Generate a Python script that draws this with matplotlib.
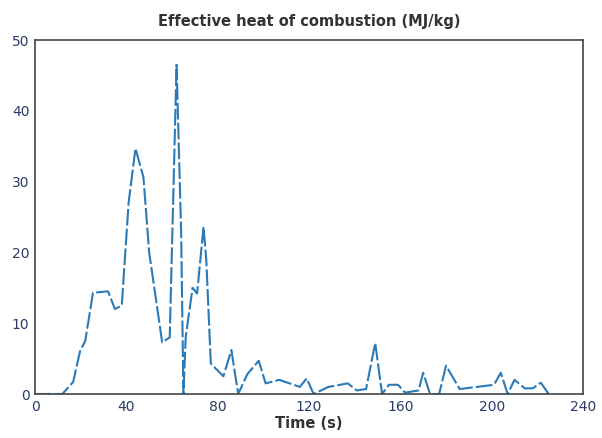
import matplotlib
matplotlib.use('Agg')
import matplotlib.pyplot as plt

time_s = [0, 12, 16.7, 19.7, 22, 25.4, 32, 35, 38, 41, 44, 47.5, 50, 55.7, 59, 62, 64, 65, 66,
          69, 71, 73.8, 75, 77, 82.5, 86, 89, 93, 98, 101, 107, 116, 119, 122, 128.5, 137, 141,
          145, 149, 152, 155, 159, 162, 168, 170, 173, 177, 180, 186, 201, 204, 207, 210, 214.5,
          218, 221.5, 225]
heat = [0, 0, 1.7, 6, 7.5, 14.3, 14.5, 12, 12.5, 27, 34.7, 30.6, 20, 7.3, 8, 46.5, 23, 0, 8,
        15, 14.2, 23.6, 19, 4.3, 2.5, 6.2, 0, 2.8, 4.7, 1.5, 2, 1, 2.2, 0, 1, 1.5, 0.5,
        0.7, 7.2, 0, 1.3, 1.3, 0.2, 0.5, 3, 0, 0, 4, 0.7, 1.3, 3, 0, 2, 0.8,
        0.8, 1.6, 0]
x_ticks = [0, 40, 80, 120, 160, 200, 240]
y_ticks = [0, 10, 20, 30, 40, 50]

fig = plt.figure(figsize=(6.02, 4.38), dpi=100)
ax = fig.add_axes([35/602, 1 - 394/438, 548/602, 354/438])
ax.plot(time_s, heat, color='#2a7ab8', linewidth=1.5, linestyle=(0, (8, 1.5)))
ax.set_xlim(0, 240)
ax.set_ylim(0, 50)
ax.set_xticks(x_ticks)
ax.set_yticks(y_ticks)
ax.tick_params(length=0, labelsize=10, colors='#2a3a6a', pad=4)
for s in ax.spines.values():
    s.set_color('#444444')
    s.set_linewidth(1.2)
ax.set_title('Effective heat of combustion (MJ/kg)', fontsize=10.5, fontweight='bold',
             color='#333333', pad=10)
ax.set_xlabel('Time (s)', fontsize=10.5, fontweight='bold', color='#333333', labelpad=2)
fig.savefig('out.png', dpi=100)
